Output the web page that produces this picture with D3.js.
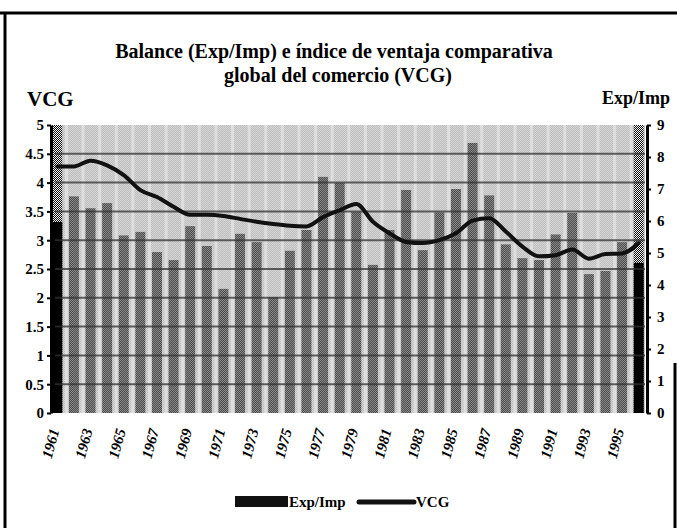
<!DOCTYPE html>
<html>
<head>
<meta charset="utf-8">
<script src="https://cdn.jsdelivr.net/npm/d3@7"></script>
<style>
body { margin: 0; background: #fff; }
text { font-family: "Liberation Serif", "Times New Roman", serif; font-weight: bold; fill: #000; }
</style>
</head>
<body>
<svg width="677" height="528"></svg>
<script>
// **** data ****
var years = [1961,1962,1963,1964,1965,1966,1967,1968,1969,1970,1971,1972,1973,1974,1975,1976,1977,1978,
             1979,1980,1981,1982,1983,1984,1985,1986,1987,1988,1989,1990,1991,1992,1993,1994,1995,1996];
var expImp = [5.97,6.77,6.40,6.56,5.55,5.66,5.03,4.78,5.84,5.22,3.88,5.60,5.34,3.62,5.07,5.72,7.38,7.19,
              6.28,4.63,5.72,6.97,5.09,6.27,7.00,8.44,6.80,5.27,4.84,4.78,5.58,6.25,4.34,4.44,5.34,4.69];
var vcg = [4.28,4.28,4.38,4.30,4.13,3.87,3.75,3.58,3.44,3.44,3.42,3.37,3.32,3.28,3.25,3.24,3.40,3.52,
           3.63,3.32,3.12,2.97,2.95,3.00,3.12,3.34,3.38,3.15,2.89,2.72,2.74,2.84,2.68,2.76,2.77,2.95];
var leftTicks = [0,0.5,1,1.5,2,2.5,3,3.5,4,4.5,5];
var rightTicks = [0,1,2,3,4,5,6,7,8,9];
var yearLabels = [1961,1963,1965,1967,1969,1971,1973,1975,1977,1979,1981,1983,1985,1987,1989,1991,1993,1995];

var rows = years.map(function(y, i) { return {year: y, exp: expImp[i], vcg: vcg[i]}; });

// **** scales ****
var xScale = d3.scaleBand().domain(years).range([49, 647]).paddingInner(0.4).paddingOuter(0.2);
var yLeft = d3.scaleLinear().domain([0, 5]).range([413, 125]);
var yRight = d3.scaleLinear().domain([0, 9]).range([413, 125]);
var bw = xScale.bandwidth();
function cx(y) { return xScale(y) + bw / 2; }

var svg = d3.select('svg');

// patterns to imitate the scanned dithering
var defs = svg.append('defs');
function checker(id, a, b) {
    var p = defs.append('pattern').attr('id', id).attr('width', 2).attr('height', 2)
        .attr('patternUnits', 'userSpaceOnUse');
    p.append('rect').attr('width', 2).attr('height', 2).attr('fill', a);
    p.append('rect').attr('width', 1).attr('height', 1).attr('fill', b);
    p.append('rect').attr('x', 1).attr('y', 1).attr('width', 1).attr('height', 1).attr('fill', b);
}
checker('bgPat', '#bdbdbd', '#d6d6d6');
checker('barPat', '#4c4c4c', '#8a8a8a');
checker('edgePat', '#111', '#f4f4f4');

// frame
svg.append('path')
    .attr('d', 'M0,13 L677,13 M5,13 L5,528 M675,363 L675,528')
    .attr('stroke', '#000').attr('stroke-width', 3).attr('fill', 'none');

// plot background
svg.append('rect').attr('x', 52).attr('y', 125).attr('width', 593).attr('height', 288)
    .attr('fill', 'url(#bgPat)');

// light stripes between bars
svg.selectAll('.gap').data(years.slice(1)).enter().append('rect')
    .attr('class', 'gap')
    .attr('x', function(d) { return xScale(d) - 4; })
    .attr('y', 125).attr('width', 3).attr('height', 288)
    .attr('fill', '#dedede');

// edge columns (first and last category)
svg.selectAll('.edge').data([years[0], years[years.length - 1]]).enter().append('rect')
    .attr('class', 'edge')
    .attr('x', function(d) { return xScale(d); })
    .attr('y', 125).attr('width', bw).attr('height', 288)
    .attr('fill', 'url(#edgePat)');

// bars
svg.selectAll('.bar').data(rows).enter().append('rect')
    .attr('class', 'bar')
    .attr('x', function(d) { return xScale(d.year); })
    .attr('y', function(d) { return yRight(d.exp); })
    .attr('width', bw)
    .attr('height', function(d) { return yRight(0) - yRight(d.exp); })
    .attr('fill', function(d, i) { return (i === 0 || i === rows.length - 1) ? '#000' : 'url(#barPat)'; });

// gridlines (drawn over bars like the scan shows)
svg.selectAll('.grid').data(leftTicks.filter(function(t) { return t > 0 && t < 5; })).enter().append('line')
    .attr('class', 'grid')
    .attr('x1', 55).attr('x2', 645)
    .attr('y1', function(d) { return yLeft(d); })
    .attr('y2', function(d) { return yLeft(d); })
    .attr('stroke', '#333').attr('stroke-width', 2).attr('opacity', 0.75);

// VCG line
var line = d3.line()
    .x(function(d) { return cx(d.year); })
    .y(function(d) { return yLeft(d.vcg); })
    .curve(d3.curveMonotoneX);
svg.append('path').datum(rows)
    .attr('d', line)
    .attr('fill', 'none').attr('stroke', '#111').attr('stroke-width', 4)
    .attr('stroke-linejoin', 'round').attr('stroke-linecap', 'round');

// axes
var leftAxis = svg.append('g').attr('transform', 'translate(51,0)')
    .call(d3.axisLeft(yLeft).tickValues(leftTicks).tickSize(4).tickSizeOuter(0).tickPadding(3)
        .tickFormat(function(d) { return String(d); }));
var rightAxis = svg.append('g').attr('transform', 'translate(647,0)')
    .call(d3.axisRight(yRight).tickValues(rightTicks).tickSize(4).tickSizeOuter(0).tickPadding(6)
        .tickFormat(function(d) { return String(d); }));
[leftAxis, rightAxis].forEach(function(a) {
    a.select('.domain').attr('stroke', '#000').attr('stroke-width', 3);
    a.selectAll('.tick line').attr('stroke', '#000').attr('stroke-width', 2);
    a.selectAll('.tick text').style('font-family', '"Liberation Serif", serif')
        .style('font-weight', 'bold').style('font-size', '15px').attr('fill', '#000');
});

// x labels
svg.selectAll('.xl').data(yearLabels).enter().append('text')
    .attr('class', 'xl')
    .attr('transform', function(d) { return 'translate(' + (cx(d) - 3) + ',429) rotate(-75)'; })
    .attr('text-anchor', 'end')
    .attr('dy', '0.35em')
    .style('font-size', '15px').style('font-style', 'italic')
    .text(function(d) { return d; });

// titles
svg.append('text').attr('x', 334).attr('y', 58).attr('text-anchor', 'middle')
    .style('font-size', '20px').text('Balance (Exp/Imp) e índice de ventaja comparativa');
svg.append('text').attr('x', 338).attr('y', 82).attr('text-anchor', 'middle')
    .style('font-size', '20px').text('global del comercio (VCG)');
svg.append('text').attr('x', 27).attr('y', 106).style('font-size', '21px').text('VCG');
svg.append('text').attr('x', 670).attr('y', 104).attr('text-anchor', 'end')
    .style('font-size', '18px').text('Exp/Imp');

// legend
svg.append('rect').attr('x', 235).attr('y', 496).attr('width', 53).attr('height', 11).attr('fill', '#111');
svg.append('text').attr('x', 289).attr('y', 507).style('font-size', '15px').text('Exp/Imp');
svg.append('line').attr('x1', 359).attr('x2', 414).attr('y1', 502).attr('y2', 502)
    .attr('stroke', '#111').attr('stroke-width', 5).attr('stroke-linecap', 'round');
svg.append('text').attr('x', 416).attr('y', 507).style('font-size', '15px').text('VCG');
</script>
</body>
</html>
